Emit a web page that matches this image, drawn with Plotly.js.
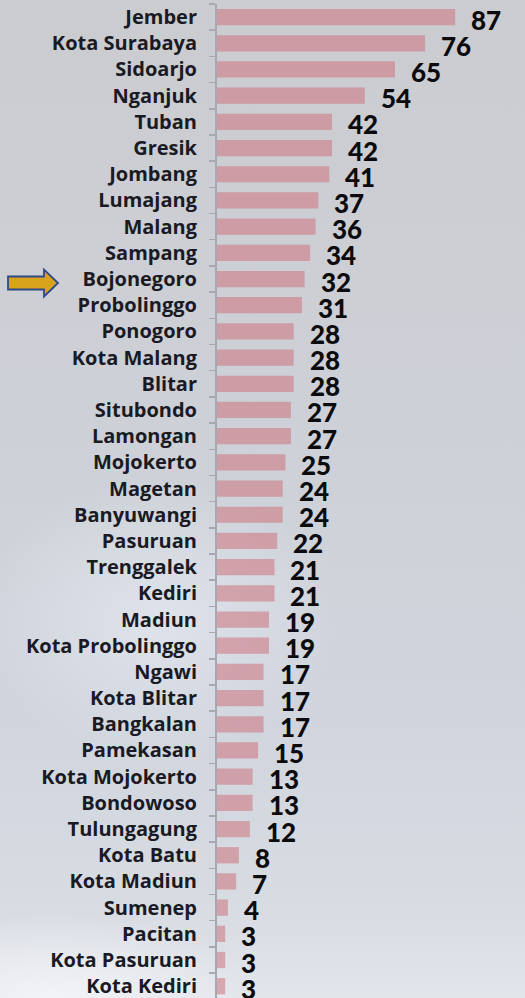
<!DOCTYPE html>
<html>
<head>
<meta charset="utf-8">
<script src="https://cdn.plot.ly/plotly-3.0.1.min.js"></script>
<style>
html, body { margin:0; padding:0; }
body {
  width:525px; height:998px; overflow:hidden;
  background:
    radial-gradient(ellipse 260px 200px at 30% 62%, rgba(235,240,248,0.55), rgba(235,240,248,0) 70%),
    radial-gradient(ellipse 300px 120px at 10% 100%, rgba(245,247,250,0.8), rgba(245,247,250,0) 70%),
    linear-gradient(to bottom, #cbccd0 0%, #cdd0d6 40%, #d0d5dd 70%, #d7dbe2 90%, #e2e5ea 100%);
}
#chart { width:525px; height:998px; }
</style>
</head>
<body>
<div id="chart"></div>
<script>
var categories = ["Jember","Kota Surabaya","Sidoarjo","Nganjuk","Tuban","Gresik","Jombang","Lumajang","Malang","Sampang","Bojonegoro","Probolinggo","Ponogoro","Kota Malang","Blitar","Situbondo","Lamongan","Mojokerto","Magetan","Banyuwangi","Pasuruan","Trenggalek","Kediri","Madiun","Kota Probolinggo","Ngawi","Kota Blitar","Bangkalan","Pamekasan","Kota Mojokerto","Bondowoso","Tulungagung","Kota Batu","Kota Madiun","Sumenep","Pacitan","Kota Pasuruan","Kota Kediri"];
var values = [87,76,65,54,42,42,41,37,36,34,32,31,28,28,28,27,27,25,24,24,22,21,21,19,19,17,17,17,15,13,13,12,8,7,4,3,3,3];
var highlighted = "Bojonegoro";

var yBottom = categories.length - 0.55;
var yTop = -0.5;

var annotations = categories.map(function(c, i){
  return {
    x: values[i], y: c, xref:'x', yref:'y',
    text: String(values[i]), showarrow:false,
    xanchor:'left', yanchor:'middle', xshift:14, yshift:-2.5,
    font:{family:'Lato, "Noto Sans", sans-serif', size:26, color:'#0b0b0e', weight:900}
  };
});

var hiIdx = categories.indexOf(highlighted);
var hiPaperY = (yBottom - hiIdx) / (yBottom - yTop);

var layout = {
  width:525, height:998,
  margin:{l:217, r:0, t:4, b:0, pad:0},
  paper_bgcolor:'rgba(0,0,0,0)',
  plot_bgcolor:'rgba(0,0,0,0)',
  showlegend:false,
  bargap:0.38,
  xaxis:{
    range:[0,112.5], visible:false, showgrid:false, zeroline:false, fixedrange:true
  },
  yaxis:{
    type:'category',
    categoryorder:'array', categoryarray:categories,
    range:[yBottom, yTop],
    showline:true, linecolor:'#a6a9b1', linewidth:2,
    ticks:'outside', tickson:'boundaries', ticklen:6, tickwidth:1.5, tickcolor:'#a6a9b1',
    ticklabelstandoff:14,
    showgrid:false, zeroline:false,
    tickfont:{family:'"Open Sans", Lato, sans-serif', size:20, color:'#1a1a24', weight:700}
  },
  annotations:annotations,
  shapes:[{
    type:'path', xref:'paper', yref:'paper',
    xsizemode:'pixel', ysizemode:'pixel',
    xanchor:0, yanchor:hiPaperY,
    path:'M -209,2.5 L -173,2.5 L -173,9.5 L -159,-4 L -173,-17.5 L -173,-10.5 L -209,-10.5 Z',
    fillcolor:'#d9a41c',
    line:{color:'#2f4a86', width:1.8},
    layer:'above'
  }]
};

var trace = {
  type:'bar', orientation:'h',
  x:values, y:categories,
  marker:{color:'rgba(205,115,125,0.55)', line:{width:0}},
  hoverinfo:'none'
};

Plotly.newPlot('chart', [trace], layout, {staticPlot:true, displayModeBar:false});
</script>
</body>
</html>
